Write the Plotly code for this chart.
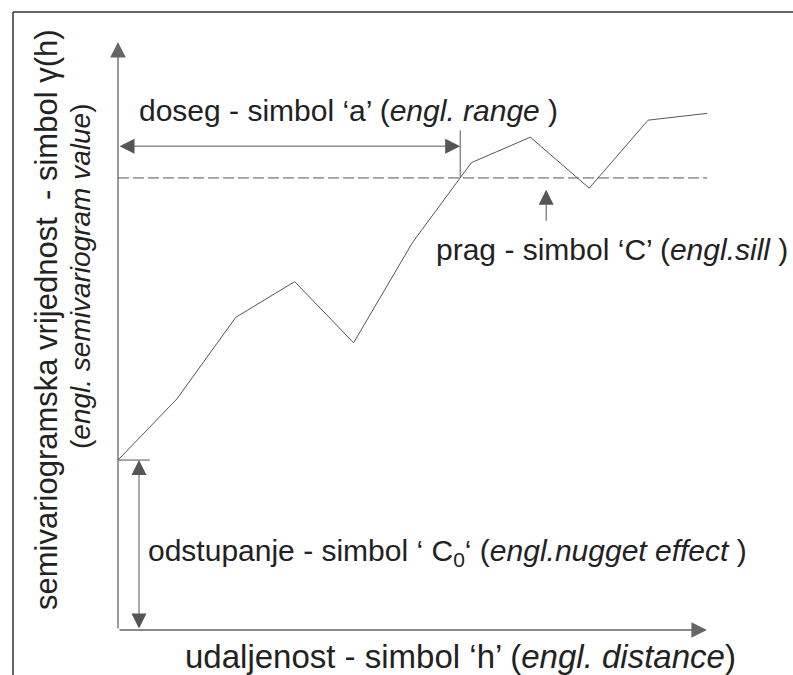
import plotly.graph_objects as go

# ---- data (semivariogram, arbitrary units) ----
lags = [0, 1, 2, 3, 4, 5, 6, 7, 8, 9, 10]
gamma = [10.0, 13.6, 18.4, 20.5, 16.9, 22.8, 27.5, 29.0, 26.0, 30.0, 30.4]
nugget = 10.0
sill = 26.6
range_a = 5.81
x_max = 10.0
y_max = 34.6

# labels
lbl_range = "doseg - simbol ‘a’ (<i>engl. range</i> )"
lbl_sill = "prag - simbol ‘C’ (<i>engl.sill</i> )"
lbl_nugget = "odstupanje - simbol ‘ C<sub>0</sub>‘ (<i>engl.nugget effect</i> )"
lbl_x = "udaljenost - simbol ‘h’ (<i>engl. distance</i>)"
lbl_y1 = "semivariogramska vrijednost  - simbol γ(h)"
lbl_y2 = "(<i>engl. semivariogram value</i>)"

W, H = 793, 675
L, R, T, B = 118, 86, 42, 45
PW, PH = W - L - R, H - T - B

def px(x):
    return (x - L) / PW

def py(y):
    return (H - B - y) / PH

LINE = "#555555"
AXIS = "#666666"
TXT = "#222222"
FONT = "Liberation Sans, Arial, sans-serif"

fig = go.Figure()
fig.add_trace(go.Scatter(x=lags, y=gamma, mode="lines",
                         line=dict(color=LINE, width=1), cliponaxis=False,
                         hoverinfo="skip"))
# sill dashed line
fig.add_trace(go.Scatter(x=[0, x_max], y=[sill, sill], mode="lines",
                         line=dict(color=LINE, width=1, dash="11px,4px"),
                         cliponaxis=False, hoverinfo="skip"))
# range tick
fig.add_trace(go.Scatter(x=[range_a, range_a], y=[sill, 29.4], mode="lines",
                         line=dict(color=LINE, width=1), cliponaxis=False,
                         hoverinfo="skip"))
# nugget tick
fig.add_trace(go.Scatter(x=[0, 0.54], y=[nugget, nugget], mode="lines",
                         line=dict(color=LINE, width=1), cliponaxis=False,
                         hoverinfo="skip"))

anns = []

def arrow(x0, y0, x1, y1, both=False, width=1.0, size=3.0, color=LINE):
    d = dict(x=x1, y=y1, ax=x0, ay=y0, xref="x", yref="y", axref="x", ayref="y",
             text="", showarrow=True, arrowhead=2, arrowsize=size, arrowwidth=width,
             arrowcolor=color, standoff=0, startstandoff=0)
    if both:
        d.update(arrowside="end+start", startarrowhead=2, startarrowsize=size)
    anns.append(d)

# axes
arrow(0, 0, 0, y_max, width=1.3, size=2.4, color=AXIS)
arrow(0, 0, x_max, 0, width=1.3, size=2.4, color=AXIS)
# range double arrow
arrow(0, 28.47, range_a, 28.47, both=True)
# nugget double arrow
arrow(0.357, 0, 0.357, nugget, both=True)
# sill pointer
arrow(7.27, 24.0, 7.27, 25.9)

def text(t, x, y, size, xanchor="left", angle=0):
    anns.append(dict(text=t, x=px(x), y=py(y), xref="paper", yref="paper",
                     xanchor=xanchor, yanchor="middle", showarrow=False,
                     textangle=angle, font=dict(family=FONT, size=size, color=TXT)))

text(lbl_range, 137, 110, 30)
text(lbl_sill, 434, 250, 30)
text(lbl_nugget, 146, 552, 30)
text(lbl_x, 460, 656, 33, xanchor="center")
text(lbl_y1, 46, 320, 31, xanchor="center", angle=-90)
text(lbl_y2, 80, 277, 28, xanchor="center", angle=-90)

shapes = [
    dict(type="line", xref="paper", yref="paper", x0=px(13), y0=py(12), x1=px(793), y1=py(12),
         line=dict(color="#333333", width=1.5)),
    dict(type="line", xref="paper", yref="paper", x0=px(13), y0=py(12), x1=px(13), y1=py(675),
         line=dict(color="#333333", width=1.5)),
]

fig.update_layout(
    width=W, height=H, autosize=False,
    margin=dict(l=L, r=R, t=T, b=B, pad=0),
    paper_bgcolor="white", plot_bgcolor="white",
    showlegend=False,
    xaxis=dict(range=[0, x_max], visible=False, fixedrange=True),
    yaxis=dict(range=[0, y_max], visible=False, fixedrange=True),
    annotations=anns, shapes=shapes,
)
fig.write_html("out.html", config={"displayModeBar": False},
               post_script="document.body.style.margin='0';document.body.style.overflow='hidden';")
